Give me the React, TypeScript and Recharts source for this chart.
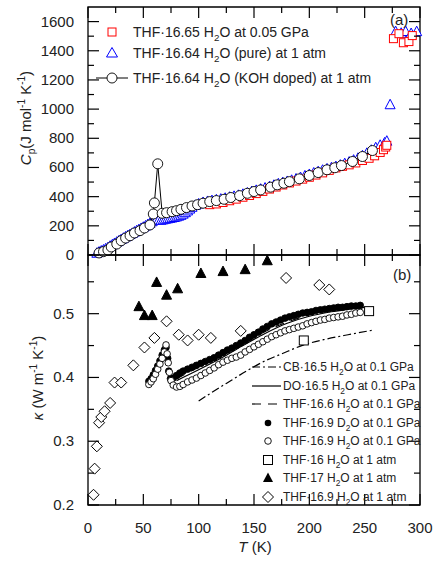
import React from 'react'
import { ScatterChart, Scatter, XAxis, YAxis, ReferenceArea } from 'recharts'

const FONT = '"Liberation Sans", Arial, Helvetica, sans-serif'

// shared temperature axis
const tempTicks = [0, 25, 50, 75, 100, 125, 150, 175, 200, 225, 250, 275, 300]
// panel (a) heat capacity axis
const cpTicks = [0, 100, 200, 300, 400, 500, 600, 700, 800, 900, 1000, 1100, 1200, 1300, 1400, 1500, 1600]
// panel (b) thermal conductivity axis
const kappaTicks = [0.2, 0.25, 0.3, 0.35, 0.4, 0.45, 0.5, 0.55]

// (a) THF·16.65 H2O at 0.05 GPa  [T, Cp]
const cpHighP: [number, number][] = [
  [110, 345], [116, 350], [122, 360], [128, 372], [134, 383], [140, 396], [146, 408],
  [152, 421], [158, 436], [164, 452], [170, 466], [176, 480], [182, 494], [188, 507],
  [194, 520], [200, 533], [206, 548], [212, 563], [218, 580], [224, 597], [230, 608],
  [236, 618], [242, 631], [248, 648], [254, 663], [259, 680], [264, 703], [267, 722],
  [269, 740], [270, 752], [276, 1483], [281, 1517], [285, 1455], [290, 1463], [293, 1504],
]

// (a) THF·16.64 H2O (pure) at 1 atm
const cpPure: [number, number][] = [
  [8, 12], [10, 20], [12, 27], [14, 34], [16, 42], [18, 50], [20, 60], [22, 70], [24, 79],
  [26, 88], [28, 97], [30, 106], [32, 115], [34, 124], [36, 132], [38, 140], [40, 148],
  [42, 157], [44, 166], [46, 174], [48, 182], [50, 190], [52, 199], [54, 208], [56, 217],
  [58, 228], [60, 238], [62, 245], [64, 240], [66, 238], [68, 241], [70, 245], [72, 248],
  [74, 251], [76, 254], [78, 257], [80, 261], [82, 266], [84, 272], [86, 280], [88, 290],
  [90, 302], [92, 315], [94, 327], [97, 340], [100, 350], [104, 360], [108, 367], [112, 373],
  [116, 378], [120, 383], [124, 389], [128, 396], [132, 402], [136, 409], [140, 416],
  [144, 425], [148, 435], [152, 443], [156, 451], [160, 459], [164, 468], [168, 478],
  [172, 488], [176, 496], [180, 504], [184, 512], [188, 521], [192, 531], [196, 542],
  [200, 552], [204, 562], [208, 571], [212, 581], [216, 590], [220, 598], [224, 606],
  [228, 616], [232, 626], [236, 637], [240, 650], [244, 663], [248, 680], [252, 697],
  [256, 718], [260, 735], [264, 752], [268, 768], [270, 780], [273, 1030], [278, 1531],
  [283, 1520], [287, 1532], [292, 1518], [297, 1531],
]

// (a) THF·16.64 H2O (KOH doped) at 1 atm
const cpKoh: [number, number][] = [
  [10, 14], [14, 23], [18, 34], [21, 55], [26, 75], [30, 98], [34, 116], [38, 132],
  [42, 151], [47, 167], [51, 185], [56, 206], [59, 281], [60, 357], [63, 625], [67, 286],
  [71, 290], [76, 297], [80, 304], [84, 313], [89, 325], [94, 336], [99, 345], [104, 355],
  [110, 366], [116, 373], [123, 382], [129, 394], [137, 407], [144, 423], [150, 435],
  [156, 446], [165, 465], [171, 481], [177, 492], [182, 503], [191, 522], [200, 545],
  [208, 565], [216, 584], [223, 598], [229, 613], [239, 641], [248, 675], [257, 716],
]

// (b) curves  [T, kappa]
const kCB: [number, number][] = [
  [100, 0.363], [115, 0.38], [130, 0.396], [145, 0.412], [160, 0.426], [175, 0.437],
  [195, 0.451], [215, 0.46], [235, 0.467], [257, 0.474],
]
const kDO: [number, number][] = [
  [80, 0.395], [100, 0.412], [120, 0.43], [140, 0.45], [160, 0.469], [180, 0.485],
  [200, 0.496], [220, 0.503], [240, 0.508], [250, 0.51],
]
const kTHF: [number, number][] = [
  [80, 0.398], [100, 0.416], [120, 0.433], [140, 0.452], [160, 0.472], [180, 0.487],
  [200, 0.498], [220, 0.505], [245, 0.51],
]

// (b) THF·16.9 D2O at 0.1 GPa
const kD2O: [number, number][] = [
  [55, 0.394], [57, 0.398], [59, 0.404], [61, 0.411], [63, 0.418], [65, 0.426], [67, 0.435],
  [69, 0.443], [70.5, 0.447], [72, 0.43], [73, 0.41], [74.5, 0.398], [77, 0.399], [80, 0.403],
  [83, 0.407], [86, 0.41], [90, 0.413], [94, 0.416], [98, 0.419], [102, 0.422], [106, 0.425],
  [110, 0.428], [114, 0.431], [118, 0.435], [122, 0.439], [126, 0.443], [130, 0.446],
  [134, 0.45], [138, 0.454], [142, 0.458], [146, 0.463], [150, 0.467], [154, 0.471],
  [158, 0.476], [162, 0.48], [166, 0.484], [170, 0.487], [174, 0.49], [178, 0.493],
  [182, 0.495], [186, 0.497], [190, 0.499], [194, 0.501], [198, 0.502], [202, 0.503],
  [206, 0.505], [210, 0.506], [214, 0.507], [218, 0.508], [222, 0.509], [226, 0.51],
  [230, 0.51], [234, 0.511], [238, 0.512], [242, 0.512], [246, 0.513],
]

// (b) THF·16.9 H2O at 0.1 GPa
const kH2O: [number, number][] = [
  [55, 0.389], [57, 0.393], [59, 0.398], [61, 0.405], [63, 0.413], [65, 0.421], [67, 0.43],
  [69, 0.44], [70.5, 0.451], [71.5, 0.437], [72.5, 0.423], [73.5, 0.408], [75, 0.395],
  [77, 0.388], [80, 0.385], [83, 0.386], [86, 0.389], [90, 0.393], [94, 0.396], [98, 0.399],
  [102, 0.403], [106, 0.407], [110, 0.411], [114, 0.415], [118, 0.42], [122, 0.424],
  [126, 0.427], [130, 0.43], [134, 0.432], [138, 0.435], [142, 0.44], [146, 0.444],
  [150, 0.448], [154, 0.452], [158, 0.456], [162, 0.46], [166, 0.464], [170, 0.467],
  [174, 0.47], [178, 0.473], [182, 0.475], [186, 0.477], [190, 0.479], [194, 0.481],
  [198, 0.484], [202, 0.486], [206, 0.488], [210, 0.49], [214, 0.491], [218, 0.493],
  [222, 0.494], [226, 0.495], [230, 0.496], [234, 0.498], [238, 0.499], [242, 0.501],
  [246, 0.502],
]

// (b) 1 atm data
const k16: [number, number][] = [[195, 0.458], [254, 0.504]]
const k17: [number, number][] = [
  [46, 0.511], [51, 0.497], [58, 0.497], [62, 0.549], [71, 0.529], [81, 0.539],
  [102, 0.563], [122, 0.566], [142, 0.569], [162, 0.583],
]
const k169: [number, number][] = [
  [5, 0.216], [6, 0.257], [8, 0.292], [10, 0.329], [12, 0.338], [15, 0.347], [20, 0.36],
  [24, 0.392], [30, 0.392], [41, 0.419], [51, 0.447], [60, 0.462], [71, 0.488], [82, 0.467],
  [90, 0.458], [100, 0.467], [111, 0.462], [138, 0.473], [179, 0.556], [209, 0.545],
  [218, 0.538],
]

const legendA = [
  'THF·16.65 H_2O at 0.05 GPa',
  'THF·16.64 H_2O (pure) at 1 atm',
  'THF·16.64 H_2O (KOH doped) at 1 atm',
]
const legendB = [
  'CB·16.5 H_2O at 0.1 GPa',
  'DO·16.5 H_2O at 0.1 GPa',
  'THF·16.6 H_2O at 0.1 GPa',
  'THF·16.9 D_2O at 0.1 GPa',
  'THF·16.9 H_2O at 0.1 GPa',
  'THF·16 H_2O at 1 atm',
  'THF·17 H_2O at 1 atm',
  'THF·16.9 H_2O at 1 atm',
]

const pts = (a: [number, number][]) => a.map(([x, y]) => ({ x, y }))

const TOP_PLOT_H = 248
const BOT_PLOT_H = 250
const PLOT_W = 332

// markers
const OpenSquare = (s: number, color: string) => (p: any) => (
  <rect x={p.cx - s / 2} y={p.cy - s / 2} width={s} height={s} fill='#fff' stroke={color} strokeWidth={1} />
)
const Triangle = (s: number, color: string, filled: boolean) => (p: any) => (
  <polygon
    points={`${p.cx},${p.cy - s * 0.55} ${p.cx - s / 2},${p.cy + s * 0.4} ${p.cx + s / 2},${p.cy + s * 0.4}`}
    fill={filled ? color : '#fff'}
    stroke={color}
    strokeWidth={1}
  />
)
const Circle = (r: number, filled: boolean) => (p: any) => (
  <circle cx={p.cx} cy={p.cy} r={r} fill={filled ? '#000' : '#fff'} stroke='#000' strokeWidth={0.9} />
)
const Diamond = (h: number) => (p: any) => (
  <polygon
    points={`${p.cx},${p.cy - h} ${p.cx + h},${p.cy} ${p.cx},${p.cy + h} ${p.cx - h},${p.cy}`}
    fill='#fff'
    stroke='#000'
    strokeWidth={1}
  />
)
const NoDot = () => <g />

// ticks drawn inward on both sides of each panel
function xTick(plotH: number, labels: boolean) {
  return (props: any) => {
    const { x, y, payload } = props
    const major = payload.value % 50 === 0
    const len = major ? 11 : 6
    return (
      <g>
        <line x1={x} x2={x} y1={y} y2={y - len} stroke='#000' strokeWidth={1.2} />
        <line x1={x} x2={x} y1={y - plotH} y2={y - plotH + len} stroke='#000' strokeWidth={1.2} />
        {labels && major && (
          <text x={x} y={y + 28} textAnchor='middle' fontSize={15} fontFamily={FONT} fill='#222'>
            {payload.value}
          </text>
        )}
      </g>
    )
  }
}

function yTick(isMajor: (v: number) => boolean, fmt: (v: number) => string) {
  return (props: any) => {
    const { x, y, payload } = props
    const major = isMajor(payload.value)
    const len = major ? 11 : 6
    return (
      <g>
        <line x1={x} x2={x + len} y1={y} y2={y} stroke='#000' strokeWidth={1.2} />
        <line x1={x + PLOT_W} x2={x + PLOT_W - len} y1={y} y2={y} stroke='#000' strokeWidth={1.2} />
        {major && (
          <text x={x - 14} y={y + 5} textAnchor='end' fontSize={15} fontFamily={FONT} fill='#222'>
            {fmt(payload.value)}
          </text>
        )}
      </g>
    )
  }
}

function Chem({ s, x, y, size }: { s: string; x: number; y: number; size: number }) {
  const parts = s.split(/_(\d)/)
  const shift = size * 0.3
  return (
    <text x={x} y={y} fontSize={size} fontFamily={FONT} fill='#222'>
      {parts.map((p, i) =>
        i % 2 === 1 ? (
          <tspan key={i} fontSize={size * 0.7} dy={shift}>
            {p}
          </tspan>
        ) : (
          <tspan key={i} dy={i === 0 ? 0 : -shift}>
            {p}
          </tspan>
        )
      )}
    </text>
  )
}

function Overlay() {
  const rowsA = [32, 53, 78]
  const rowsB = [367, 386, 404, 423, 441, 460, 478, 497]
  return (
    <svg width={435} height={561} style={{ position: 'absolute', left: 0, top: 0, pointerEvents: 'none' }}>
      {/* panel (a) legend */}
      <rect x={108} y={rowsA[0] - 4} width={8} height={8} fill='#fff' stroke='#f00' strokeWidth={1} />
      <polygon
        points={`112,${rowsA[1] - 5.5} 106.5,${rowsA[1] + 4} 117.5,${rowsA[1] + 4}`}
        fill='#fff'
        stroke='#00f'
        strokeWidth={1}
      />
      <line x1={96} x2={128} y1={rowsA[2]} y2={rowsA[2]} stroke='#000' strokeWidth={1} />
      <circle cx={112} cy={rowsA[2]} r={5} fill='#fff' stroke='#000' strokeWidth={0.9} />
      {legendA.map((s, i) => (
        <Chem key={s} s={s} x={133} y={rowsA[i] + 5} size={14} />
      ))}
      <text x={390} y={25} fontSize={15} fontFamily={FONT} fill='#222'>(a)</text>

      {/* panel (b) legend */}
      <line x1={252} x2={281} y1={rowsB[0]} y2={rowsB[0]} stroke='#000' strokeWidth={1.2} strokeDasharray='8 3 2 3' />
      <line x1={252} x2={281} y1={rowsB[1]} y2={rowsB[1]} stroke='#000' strokeWidth={1.2} />
      <line x1={252} x2={281} y1={rowsB[2]} y2={rowsB[2]} stroke='#000' strokeWidth={1.2} strokeDasharray='9 7' />
      <circle cx={268} cy={rowsB[3]} r={3.3} fill='#000' />
      <circle cx={268} cy={rowsB[4]} r={3.3} fill='#fff' stroke='#000' strokeWidth={0.9} />
      <rect x={263.5} y={rowsB[5] - 4.5} width={9} height={9} fill='#fff' stroke='#000' strokeWidth={1} />
      <polygon points={`268,${rowsB[6] - 5.5} 263,${rowsB[6] + 4} 273,${rowsB[6] + 4}`} fill='#000' />
      <polygon
        points={`268,${rowsB[7] - 5.5} 273.5,${rowsB[7]} 268,${rowsB[7] + 5.5} 262.5,${rowsB[7]}`}
        fill='#fff'
        stroke='#000'
        strokeWidth={1}
      />
      {legendB.map((s, i) => (
        <Chem key={s + i} s={s} x={283} y={rowsB[i] + 4} size={12} />
      ))}
      <text x={393} y={280} fontSize={15} fontFamily={FONT} fill='#222'>(b)</text>

      {/* axis titles */}
      <text transform='translate(31,118) rotate(-90)' textAnchor='middle' fontSize={15} fontFamily={FONT} fill='#222'>
        <tspan fontStyle='italic'>C</tspan>
        <tspan fontSize={10} dy={4}>p</tspan>
        <tspan dy={-4}>(J mol</tspan>
        <tspan fontSize={10} dy={-6}>-1</tspan>
        <tspan dy={6}> K</tspan>
        <tspan fontSize={10} dy={-6}>-1</tspan>
        <tspan dy={6}>)</tspan>
      </text>
      <text transform='translate(43,378) rotate(-90)' textAnchor='middle' fontSize={15} fontFamily={FONT} fill='#222'>
        <tspan fontStyle='italic'>κ</tspan>
        <tspan> (W m</tspan>
        <tspan fontSize={10} dy={-6}>-1</tspan>
        <tspan dy={6}> K</tspan>
        <tspan fontSize={10} dy={-6}>-1</tspan>
        <tspan dy={6}>)</tspan>
      </text>
      <text x={255} y={552} textAnchor='middle' fontSize={15} fontFamily={FONT} fill='#222'>
        <tspan fontStyle='italic'>T</tspan> (K)
      </text>
    </svg>
  )
}

export default function App() {
  return (
    <div style={{ position: 'absolute', left: 0, top: 0, width: 435, height: 561, background: '#fff' }}>
      <div style={{ position: 'absolute', left: 0, top: 0 }}>
        <ScatterChart width={435} height={265} margin={{ top: 7, right: 15, bottom: 0, left: 28 }}>
          <XAxis
            dataKey='x'
            type='number'
            domain={[0, 300]}
            ticks={tempTicks}
            interval={0}
            height={10}
            axisLine={false}
            tickLine={false}
            tickSize={0}
            tickMargin={0}
            tick={xTick(TOP_PLOT_H, false)}
          />
          <YAxis
            dataKey='y'
            type='number'
            domain={[0, 1700]}
            ticks={cpTicks}
            interval={0}
            width={60}
            axisLine={false}
            tickLine={false}
            tickSize={0}
            tickMargin={0}
            tick={yTick((v) => v % 200 === 0, (v) => String(v))}
          />
          <ReferenceArea x1={0} x2={300} y1={0} y2={1700} fill='none' stroke='#000' strokeWidth={1.3} />
          <Scatter data={pts(cpPure)} shape={Triangle(10, '#0000ff', false)} isAnimationActive={false} />
          <Scatter data={pts(cpHighP)} shape={OpenSquare(8, '#ff0000')} isAnimationActive={false} />
          <Scatter
            data={pts(cpKoh)}
            shape={Circle(5, false)}
            line={{ stroke: '#000', strokeWidth: 1 }}
            isAnimationActive={false}
          />
        </ScatterChart>
      </div>
      <div style={{ position: 'absolute', left: 0, top: 245 }}>
        <ScatterChart width={435} height={316} margin={{ top: 10, right: 15, bottom: 16, left: 28 }}>
          <XAxis
            dataKey='x'
            type='number'
            domain={[0, 300]}
            ticks={tempTicks}
            interval={0}
            height={40}
            axisLine={false}
            tickLine={false}
            tickSize={0}
            tickMargin={0}
            tick={xTick(BOT_PLOT_H, true)}
          />
          <YAxis
            dataKey='y'
            type='number'
            domain={[0.2, 0.592]}
            ticks={kappaTicks}
            interval={0}
            width={60}
            axisLine={false}
            tickLine={false}
            tickSize={0}
            tickMargin={0}
            tick={yTick((v) => Math.round(v * 100) % 10 === 0, (v) => v.toFixed(1))}
          />
          <ReferenceArea x1={0} x2={300} y1={0.2} y2={0.592} fill='none' stroke='#000' strokeWidth={1.3} />
          <Scatter
            data={pts(kCB)}
            shape={NoDot}
            line={{ stroke: '#000', strokeWidth: 1.2, strokeDasharray: '8 3 2 3' }}
            lineJointType='monotoneX'
            isAnimationActive={false}
          />
          <Scatter
            data={pts(kDO)}
            shape={NoDot}
            line={{ stroke: '#000', strokeWidth: 1.2 }}
            lineJointType='monotoneX'
            isAnimationActive={false}
          />
          <Scatter
            data={pts(kTHF)}
            shape={NoDot}
            line={{ stroke: '#000', strokeWidth: 1.2, strokeDasharray: '9 7' }}
            lineJointType='monotoneX'
            isAnimationActive={false}
          />
          <Scatter data={pts(k169)} shape={Diamond(5.5)} isAnimationActive={false} />
          <Scatter data={pts(k17)} shape={Triangle(10, '#000', true)} isAnimationActive={false} />
          <Scatter data={pts(k16)} shape={OpenSquare(9, '#000')} isAnimationActive={false} />
          <Scatter data={pts(kD2O)} shape={Circle(3.3, true)} isAnimationActive={false} />
          <Scatter data={pts(kH2O)} shape={Circle(3.3, false)} isAnimationActive={false} />
        </ScatterChart>
      </div>
      <Overlay />
    </div>
  )
}
